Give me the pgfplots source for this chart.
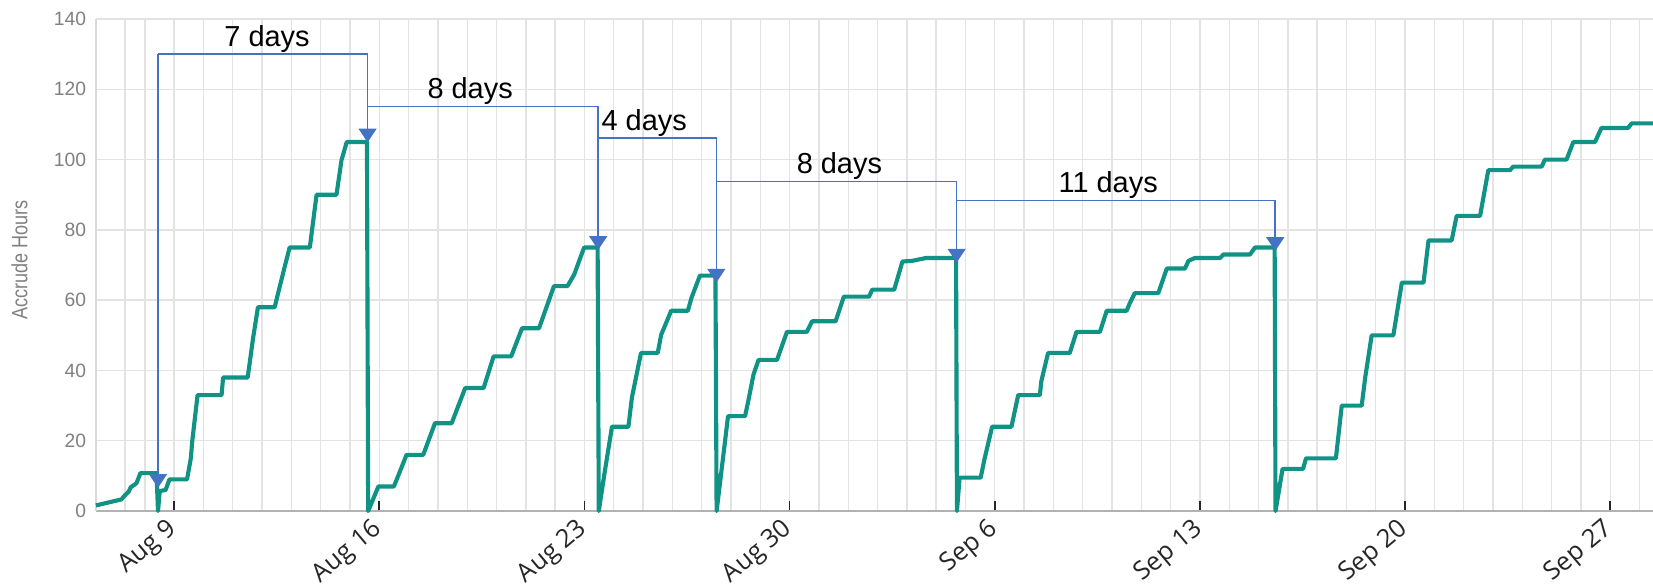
\documentclass[border=0pt]{standalone}
\usepackage{fontspec}
\setmainfont{Liberation Sans}
\newfontfamily\xlabfont{Open Sans}
\newfontfamily\narrowfont[FakeStretch=0.82]{Liberation Sans}
\usepackage{pgfplots}
\pgfplotsset{compat=1.18}
\usetikzlibrary{arrows.meta,calc}
\definecolor{tealline}{HTML}{109385}
\definecolor{annot}{HTML}{4472C4}

\begin{document}
\begin{tikzpicture}
\begin{axis}[
  name=ax,
  scale only axis, width=565.2pt, height=178.6pt,
  xmin=6.33, xmax=59.46, ymin=0, ymax=140,
  clip=false,
  axis x line*=bottom, axis y line*=left,
  x axis line style={black!30, line width=0.7pt, -},
  y axis line style={black!15, line width=0.5pt, -},
  xtick={9,16,...,58},
  xticklabels={Aug 9,Aug 16,Aug 23,Aug 30,Sep 6,Sep 13,Sep 20,Sep 27},
  minor xtick={7.33,8,9,...,59},
  ytick={0,20,...,140},
  xmajorgrids, xminorgrids, ymajorgrids,
  grid style={black!11, line width=0.5pt},
  minor grid style={black!11, line width=0.5pt},
  minor tick length=0pt,
  x tick style={black!85, line width=0.6pt},
  tick align=inside, major tick length=3.5pt,
  y tick style={draw=none},
  /pgf/number format/assume math mode=true,
  yticklabel style={font=\fontsize{7}{8}\selectfont, text=black!50},
  xticklabel style={font=\xlabfont\fontsize{9.2}{10}\selectfont, text=black!85,
                    rotate=40, anchor=north east, inner sep=1pt, xshift=-2.5pt, yshift=1.5pt},
  ylabel={Accrude Hours},
  ylabel style={font=\narrowfont\fontsize{8}{9}\selectfont, text=black!50,
                at={(axis description cs:-0.049,0.51)}, anchor=center},
]
\addplot[tealline, line width=1.5pt, line join=round] coordinates {
(6.33,1.6) (6.99,2.9) (7.20,3.3) (7.32,4.5) (7.45,5.5) (7.52,6.8) (7.65,7.5)
(7.72,8.0) (7.85,10.8) (8.40,10.8) (8.45,0) (8.51,5.7) (8.71,6.0) (8.84,9.0)
(9.44,9.0) (9.57,15) (9.62,20) (9.80,33) (10.62,33) (10.67,38) (11.51,38)
(11.69,49) (11.86,58) (12.43,58) (12.54,61.7) (12.71,67.4) (12.94,75)
(13.63,75) (13.86,90) (14.54,90) (14.71,99.8) (14.89,105) (15.58,105)
(15.62,0) (15.97,7) (16.50,7) (16.93,16) (17.50,16) (17.90,25) (18.47,25)
(18.93,35) (19.56,35) (19.90,44) (20.50,44) (20.87,52) (21.45,52) (21.96,64)
(22.42,64) (22.65,67.3) (22.99,75) (23.45,75) (23.49,0) (23.68,10.5)
(23.94,24) (24.50,24) (24.62,32.3) (24.93,45) (25.50,45) (25.62,50.2)
(25.96,57) (26.53,57) (26.65,60.6) (26.94,67) (27.47,67) (27.51,0)
(27.90,27) (28.48,27) (28.59,31.3) (28.77,38.9) (28.94,43) (29.57,43)
(29.91,51) (30.59,51) (30.77,54) (31.57,54) (31.85,61) (32.71,61) (32.82,63)
(33.57,63) (33.85,71) (34.19,71.2) (34.65,72) (35.68,72) (35.71,0)
(35.80,9.5) (36.52,9.5) (36.65,14.8) (36.91,24) (37.57,24) (37.80,33)
(38.54,33) (38.59,37) (38.82,45) (39.56,45) (39.79,51) (40.59,51) (40.82,57)
(41.50,57) (41.61,59.2) (41.78,62) (42.58,62) (42.87,69) (43.49,69)
(43.61,71.2) (43.83,72) (44.69,72) (44.80,73) (45.71,73) (45.88,75)
(46.55,75) (46.58,0) (46.82,12) (47.52,12) (47.62,15) (48.64,15) (48.84,30)
(49.52,30) (49.64,38) (49.86,50) (50.60,50) (50.89,65) (51.63,65) (51.80,77)
(52.59,77) (52.76,84) (53.56,84) (53.84,97) (54.58,97) (54.69,98) (55.66,98)
(55.77,100) (56.51,100) (56.74,105) (57.48,105) (57.70,109) (58.61,109)
(58.73,110.3) (59.46,110.3)
};
% gap annotations
\tikzset{gap/.style={annot, line width=0.55pt, -{Triangle[width=6.5pt,length=5pt]}}}
\draw[gap] (8.45,130) -- (8.45,6.6);
\draw[gap] (8.45,130) -- (15.6,130) -- (15.6,104.9);
\draw[gap] (15.6,115.1) -- (23.47,115.1) -- (23.47,74.3);
\draw[gap] (23.47,106.1) -- (27.5,106.1) -- (27.5,65);
\draw[gap] (27.5,93.8) -- (35.7,93.8) -- (35.7,70.7);
\draw[gap] (35.7,88.4) -- (46.57,88.4) -- (46.57,74);
\tikzset{gaplab/.style={anchor=base, font=\fontsize{10.5}{12}\selectfont, inner sep=0pt}}
\node[gaplab] at (12.17,132.3) {7 days};
\node[gaplab] at (19.1,117.4) {8 days};
\node[gaplab] at (25.04,108.4) {4 days};
\node[gaplab] at (31.7,96.1) {8 days};
\node[gaplab] at (40.87,90.7) {11 days};
\end{axis}
\pgfresetboundingbox
\path[use as bounding box] ($(ax.south west)+(-34.8pt,-26.8pt)$) rectangle ($(ax.north east)+(0pt,6.9pt)$);
\end{tikzpicture}
\end{document}
